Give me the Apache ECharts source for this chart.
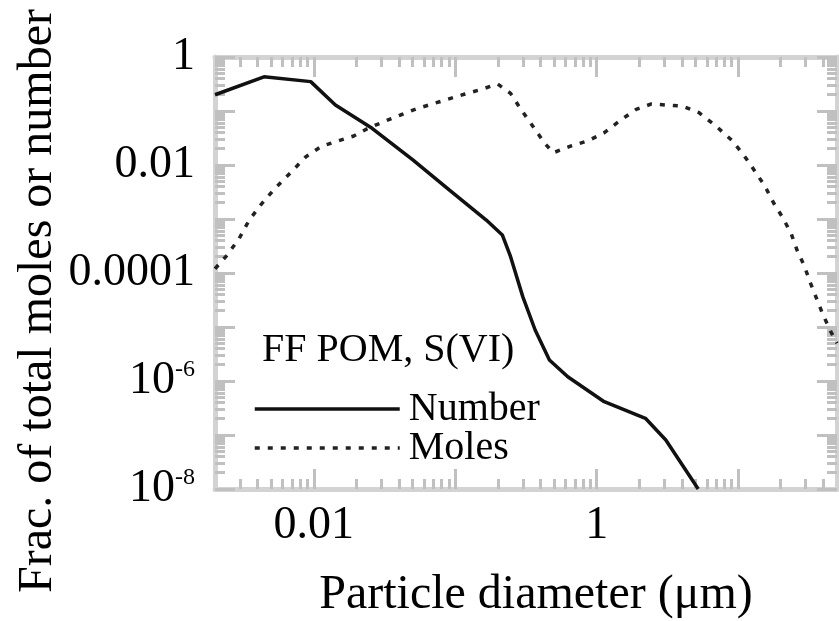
<!DOCTYPE html>
<html><head><meta charset="utf-8">
<script src="https://cdn.jsdelivr.net/npm/echarts@6/dist/echarts.min.js"></script>
<style>html,body{margin:0;padding:0;background:#fff}#c{width:839px;height:621px}</style>
</head><body><div id="c"></div>
<script>
// ---- data ----
const seriesNames = ['Number', 'Moles'];
const numberX = [0.002, 0.00444, 0.0095, 0.0142, 0.0258, 0.0501, 0.091, 0.1656, 0.215, 0.246, 0.30, 0.367, 0.463, 0.624, 1.13, 2.21, 3.08, 5.22];
const numberY = [0.2, 0.43, 0.35, 0.129, 0.0478, 0.0124, 0.00344, 0.000955, 0.000506, 0.0002, 3.65e-5, 8.8e-6, 2.45e-6, 1.2e-6, 4.14e-7, 2.04e-7, 8.1e-8, 1e-8];
const molesX = [0.002, 0.00244, 0.00297, 0.00347, 0.00421, 0.00524, 0.00684, 0.00879, 0.01125, 0.01469, 0.01914, 0.02415, 0.0325, 0.0409, 0.0536, 0.0689, 0.0881, 0.1172, 0.1528, 0.1995, 0.246, 0.291, 0.3556, 0.4285, 0.494, 0.659, 0.871, 1.132, 1.459, 1.901, 2.438, 3.076, 4.018, 5.284, 7.047, 9.08, 11.07, 13.06, 15.45, 17.78, 20.8, 23.77, 26.06, 29.38, 32.36, 35.81, 39.63, 45.19, 50];
const molesY = [1.2e-4, 2.15e-4, 4.39e-4, 9.3e-4, 0.00182, 0.00355, 0.00721, 0.01426, 0.0219, 0.0278, 0.0344, 0.0478, 0.0662, 0.0843, 0.1104, 0.135, 0.1644, 0.2065, 0.2518, 0.316, 0.2123, 0.1074, 0.0513, 0.0252, 0.0169, 0.0225, 0.0282, 0.0397, 0.0662, 0.1074, 0.135, 0.129, 0.1239, 0.0931, 0.0513, 0.0282, 0.01469, 0.00785, 0.00408, 0.002, 0.00103, 5.27e-4, 2.67e-4, 1.35e-4, 6.62e-5, 3.4e-5, 1.74e-5, 8.2e-6, 5e-6];
const xTickValues = [0.01, 1];
const xTickLabels = ['0.01', '1'];
const yTickValues = [1e-8, 1e-6, 1e-4, 0.01, 1];
const yTickLabels = ['10^-8', '10^-6', '0.0001', '0.01', '1'];
const legendTitle = 'FF POM, S(VI)';
const xTitle = 'Particle diameter (\u03bcm)';
const yTitle = 'Frac. of total moles or number';
const xMin = 0.002, xMax = 50, yMin = 1e-8, yMax = 1;

// ---- helpers ----
const FONT = 'Liberation Serif';
const frameColor = '#d3d3d3';
const tickColor = '#c0c0c0';
function pairs(xs, ys) { return xs.map((x, i) => [x, ys[i]]); }
function findLabel(v, vals, labels) {
  for (let i = 0; i < vals.length; i++) {
    if (Math.abs(Math.log10(v) - Math.log10(vals[i])) < 1e-6) return labels[i];
  }
  return '';
}
function toRich(s) {
  if (!s) return '';
  if (s.indexOf('^') >= 0) { const p = s.split('^'); return '{b|' + p[0] + '}{s|' + p[1] + '}'; }
  return '{b|' + s + '}';
}
function decades(lo, hi) {
  const out = [];
  for (let e = Math.floor(Math.log10(lo)) - 1; e <= Math.ceil(Math.log10(hi)) + 1; e++) {
    const v = Math.pow(10, e);
    if (v >= lo * 0.9999 && v <= hi * 1.0001) out.push(v);
  }
  return out;
}
function minors(lo, hi) {
  const out = [];
  for (let e = Math.floor(Math.log10(lo)) - 1; e <= Math.ceil(Math.log10(hi)) + 1; e++) {
    for (let m = 2; m <= 9; m++) {
      const v = m * Math.pow(10, e);
      if (v > lo * 1.0001 && v < hi * 0.9999) out.push(v);
    }
  }
  return out;
}
const labelRich = {
  b: { fontFamily: FONT, fontSize: 46, color: '#000', lineHeight: 46 },
  s: { fontFamily: FONT, fontSize: 24, color: '#000', lineHeight: 18, verticalAlign: 'top' }
};
function makeAxis(dim, gridIndex, position, tickValues, tickLen, showLine, labelCfg) {
  const isX = dim === 'x';
  return {
    type: 'log', logBase: 10, gridIndex: gridIndex, position: position,
    min: isX ? xMin : yMin, max: isX ? xMax : yMax,
    axisLine: { show: showLine, onZero: false, lineStyle: { color: frameColor, width: 5 } },
    axisTick: { show: true, inside: true, length: tickLen, customValues: tickValues,
      lineStyle: { color: tickColor, width: 3 } },
    minorTick: { show: false },
    splitLine: { show: false },
    axisLabel: labelCfg || { show: false }
  };
}
const xLabel = {
  show: true, margin: 14, customValues: xTickValues,
  formatter: v => toRich(findLabel(v, xTickValues, xTickLabels)), rich: labelRich
};
const yLabel = {
  show: true, margin: 20, customValues: yTickValues,
  formatter: v => toRich(findLabel(v, yTickValues, yTickLabels)), rich: labelRich
};
const xMajor = decades(xMin, xMax), xMinor = minors(xMin, xMax);
const yMajor = decades(yMin, yMax), yMinor = minors(yMin, yMax);
const gridRect = { left: 215, top: 57, width: 622, height: 432, containLabel: false, outerBoundsMode: 'none' };

const chart = echarts.init(document.getElementById('c'), null, { renderer: 'canvas' });
chart.setOption({
  animation: false,
  backgroundColor: '#fff',
  grid: [Object.assign({}, gridRect), Object.assign({}, gridRect)],
  xAxis: [
    makeAxis('x', 0, 'bottom', xMajor, 20, true, xLabel),
    makeAxis('x', 0, 'top', xMajor, 20, true),
    makeAxis('x', 1, 'bottom', xMinor, 10, false),
    makeAxis('x', 1, 'top', xMinor, 10, false)
  ],
  yAxis: [
    makeAxis('y', 0, 'left', yMajor, 20, true, yLabel),
    makeAxis('y', 0, 'right', yMajor, 20, true),
    makeAxis('y', 1, 'left', yMinor, 10, false),
    makeAxis('y', 1, 'right', yMinor, 10, false)
  ],
  legend: {
    data: seriesNames, orient: 'vertical', left: 248, top: 384,
    itemWidth: 145, itemHeight: 14, itemGap: -1,
    selectedMode: false,
    itemStyle: { opacity: 0 },
    lineStyle: { width: 3.5 },
    textStyle: { fontFamily: FONT, fontSize: 40, color: '#000', padding: [0, 0, 0, 4] }
  },
  graphic: [
    { type: 'text', x: 262, y: 350, style: { text: legendTitle, font: '40px "Liberation Serif"', fill: '#000', textAlign: 'left', textVerticalAlign: 'middle' } },
    { type: 'text', x: 536, y: 595, style: { text: xTitle, font: '48px "Liberation Serif"', fill: '#000', textAlign: 'center', textVerticalAlign: 'middle' } },
    { type: 'text', x: 38, y: 301, rotation: Math.PI / 2, style: { text: yTitle, font: '48px "Liberation Serif"', fill: '#000', textAlign: 'center', textVerticalAlign: 'middle' } }
  ],
  series: [
    { name: seriesNames[0], type: 'line', xAxisIndex: 0, yAxisIndex: 0, data: pairs(numberX, numberY),
      symbol: 'none', color: '#111', lineStyle: { color: '#111', width: 3.5 }, z: 5 },
    { name: seriesNames[1], type: 'line', xAxisIndex: 0, yAxisIndex: 0, data: pairs(molesX, molesY),
      symbol: 'none', color: '#222', lineStyle: { color: '#222', width: 3.5, type: [5, 8] }, z: 5 }
  ]
});
</script></body></html>
